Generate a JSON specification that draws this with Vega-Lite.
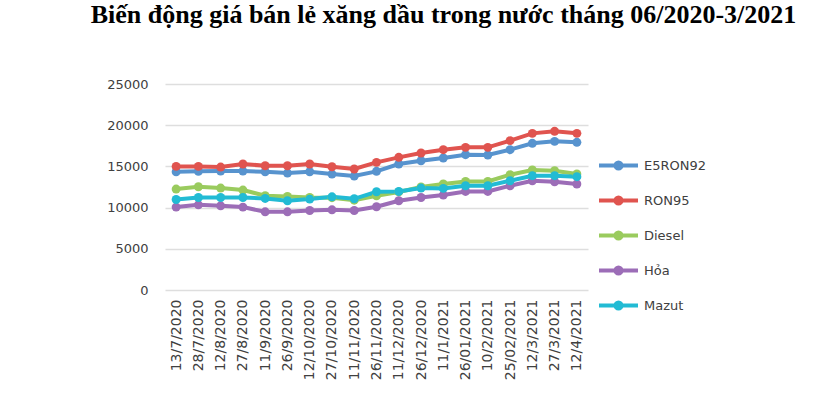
{
  "$schema": "https://vega.github.io/schema/vega-lite/v6.json",
  "autosize": "none",
  "width": 423,
  "height": 206,
  "padding": {"left": 165, "top": 84, "right": 227, "bottom": 109},
  "background": "white",
  "title": {
    "text": "Biến động giá bán lẻ xăng dầu trong nước tháng 06/2020-3/2021",
    "font": "Liberation Serif",
    "fontSize": 26,
    "fontWeight": "bold",
    "color": "#000000",
    "anchor": "middle",
    "dx": 67,
    "baseline": "alphabetic",
    "offset": 29
  },
  "config": {
    "view": {"stroke": null},
    "font": "DejaVu Sans"
  },
  "datasets": {
    "prices": [
      {"date": "13/7/2020", "fuel": "E5RON92", "price": 14350},
      {"date": "28/7/2020", "fuel": "E5RON92", "price": 14400},
      {"date": "12/8/2020", "fuel": "E5RON92", "price": 14430},
      {"date": "27/8/2020", "fuel": "E5RON92", "price": 14430},
      {"date": "11/9/2020", "fuel": "E5RON92", "price": 14350},
      {"date": "26/9/2020", "fuel": "E5RON92", "price": 14190},
      {"date": "12/10/2020", "fuel": "E5RON92", "price": 14350},
      {"date": "27/10/2020", "fuel": "E5RON92", "price": 14070},
      {"date": "11/11/2020", "fuel": "E5RON92", "price": 13830},
      {"date": "26/11/2020", "fuel": "E5RON92", "price": 14400},
      {"date": "11/12/2020", "fuel": "E5RON92", "price": 15290},
      {"date": "26/12/2020", "fuel": "E5RON92", "price": 15690},
      {"date": "11/1/2021", "fuel": "E5RON92", "price": 16020},
      {"date": "26/01/2021", "fuel": "E5RON92", "price": 16420},
      {"date": "10/2/2021", "fuel": "E5RON92", "price": 16380},
      {"date": "25/02/2021", "fuel": "E5RON92", "price": 17030},
      {"date": "12/3/2021", "fuel": "E5RON92", "price": 17800},
      {"date": "27/3/2021", "fuel": "E5RON92", "price": 18040},
      {"date": "12/4/2021", "fuel": "E5RON92", "price": 17920},
      {"date": "13/7/2020", "fuel": "RON95", "price": 15000},
      {"date": "28/7/2020", "fuel": "RON95", "price": 15000},
      {"date": "12/8/2020", "fuel": "RON95", "price": 14920},
      {"date": "27/8/2020", "fuel": "RON95", "price": 15290},
      {"date": "11/9/2020", "fuel": "RON95", "price": 15080},
      {"date": "26/9/2020", "fuel": "RON95", "price": 15080},
      {"date": "12/10/2020", "fuel": "RON95", "price": 15290},
      {"date": "27/10/2020", "fuel": "RON95", "price": 14960},
      {"date": "11/11/2020", "fuel": "RON95", "price": 14680},
      {"date": "26/11/2020", "fuel": "RON95", "price": 15490},
      {"date": "11/12/2020", "fuel": "RON95", "price": 16100},
      {"date": "26/12/2020", "fuel": "RON95", "price": 16630},
      {"date": "11/1/2021", "fuel": "RON95", "price": 17030},
      {"date": "26/01/2021", "fuel": "RON95", "price": 17310},
      {"date": "10/2/2021", "fuel": "RON95", "price": 17310},
      {"date": "25/02/2021", "fuel": "RON95", "price": 18130},
      {"date": "12/3/2021", "fuel": "RON95", "price": 19010},
      {"date": "27/3/2021", "fuel": "RON95", "price": 19260},
      {"date": "12/4/2021", "fuel": "RON95", "price": 19010},
      {"date": "13/7/2020", "fuel": "Diesel", "price": 12250},
      {"date": "28/7/2020", "fuel": "Diesel", "price": 12530},
      {"date": "12/8/2020", "fuel": "Diesel", "price": 12370},
      {"date": "27/8/2020", "fuel": "Diesel", "price": 12130},
      {"date": "11/9/2020", "fuel": "Diesel", "price": 11440},
      {"date": "26/9/2020", "fuel": "Diesel", "price": 11350},
      {"date": "12/10/2020", "fuel": "Diesel", "price": 11230},
      {"date": "27/10/2020", "fuel": "Diesel", "price": 11200},
      {"date": "11/11/2020", "fuel": "Diesel", "price": 10900},
      {"date": "26/11/2020", "fuel": "Diesel", "price": 11440},
      {"date": "11/12/2020", "fuel": "Diesel", "price": 11900},
      {"date": "26/12/2020", "fuel": "Diesel", "price": 12500},
      {"date": "11/1/2021", "fuel": "Diesel", "price": 12860},
      {"date": "26/01/2021", "fuel": "Diesel", "price": 13180},
      {"date": "10/2/2021", "fuel": "Diesel", "price": 13180},
      {"date": "25/02/2021", "fuel": "Diesel", "price": 13990},
      {"date": "12/3/2021", "fuel": "Diesel", "price": 14560},
      {"date": "27/3/2021", "fuel": "Diesel", "price": 14480},
      {"date": "12/4/2021", "fuel": "Diesel", "price": 14080},
      {"date": "13/7/2020", "fuel": "Hỏa", "price": 10060},
      {"date": "28/7/2020", "fuel": "Hỏa", "price": 10340},
      {"date": "12/8/2020", "fuel": "Hỏa", "price": 10220},
      {"date": "27/8/2020", "fuel": "Hỏa", "price": 10060},
      {"date": "11/9/2020", "fuel": "Hỏa", "price": 9490},
      {"date": "26/9/2020", "fuel": "Hỏa", "price": 9490},
      {"date": "12/10/2020", "fuel": "Hỏa", "price": 9650},
      {"date": "27/10/2020", "fuel": "Hỏa", "price": 9730},
      {"date": "11/11/2020", "fuel": "Hỏa", "price": 9650},
      {"date": "26/11/2020", "fuel": "Hỏa", "price": 10100},
      {"date": "11/12/2020", "fuel": "Hỏa", "price": 10830},
      {"date": "26/12/2020", "fuel": "Hỏa", "price": 11230},
      {"date": "11/1/2021", "fuel": "Hỏa", "price": 11520},
      {"date": "26/01/2021", "fuel": "Hỏa", "price": 11960},
      {"date": "10/2/2021", "fuel": "Hỏa", "price": 11960},
      {"date": "25/02/2021", "fuel": "Hỏa", "price": 12650},
      {"date": "12/3/2021", "fuel": "Hỏa", "price": 13260},
      {"date": "27/3/2021", "fuel": "Hỏa", "price": 13140},
      {"date": "12/4/2021", "fuel": "Hỏa", "price": 12860},
      {"date": "13/7/2020", "fuel": "Mazut", "price": 10980},
      {"date": "28/7/2020", "fuel": "Mazut", "price": 11230},
      {"date": "12/8/2020", "fuel": "Mazut", "price": 11230},
      {"date": "27/8/2020", "fuel": "Mazut", "price": 11230},
      {"date": "11/9/2020", "fuel": "Mazut", "price": 11110},
      {"date": "26/9/2020", "fuel": "Mazut", "price": 10830},
      {"date": "12/10/2020", "fuel": "Mazut", "price": 11030},
      {"date": "27/10/2020", "fuel": "Mazut", "price": 11310},
      {"date": "11/11/2020", "fuel": "Mazut", "price": 11070},
      {"date": "26/11/2020", "fuel": "Mazut", "price": 11920},
      {"date": "11/12/2020", "fuel": "Mazut", "price": 11960},
      {"date": "26/12/2020", "fuel": "Mazut", "price": 12370},
      {"date": "11/1/2021", "fuel": "Mazut", "price": 12330},
      {"date": "26/01/2021", "fuel": "Mazut", "price": 12650},
      {"date": "10/2/2021", "fuel": "Mazut", "price": 12650},
      {"date": "25/02/2021", "fuel": "Mazut", "price": 13260},
      {"date": "12/3/2021", "fuel": "Mazut", "price": 13870},
      {"date": "27/3/2021", "fuel": "Mazut", "price": 13870},
      {"date": "12/4/2021", "fuel": "Mazut", "price": 13750}
    ]
  },
  "data": {"name": "prices"},
  "mark": {
    "type": "line",
    "strokeWidth": 4,
    "point": {"filled": true, "size": 80, "opacity": 1}
  },
  "encoding": {
    "x": {
      "field": "date",
      "type": "ordinal",
      "sort": null,
      "scale": {"paddingInner": 1, "paddingOuter": 0.5},
      "axis": {
        "title": null,
        "labelAngle": -90,
        "labelFont": "DejaVu Sans",
        "labelFontSize": 14,
        "labelColor": "#404040",
        "labelPadding": 9,
        "ticks": false,
        "domain": false,
        "grid": false
      }
    },
    "y": {
      "field": "price",
      "type": "quantitative",
      "scale": {"domain": [0, 25000]},
      "axis": {
        "title": null,
        "values": [0, 5000, 10000, 15000, 20000, 25000],
        "format": "d",
        "labelFont": "DejaVu Sans",
        "labelFontSize": 13,
        "labelColor": "#404040",
        "labelPadding": 17,
        "ticks": false,
        "domain": false,
        "grid": true,
        "gridColor": "#dedede",
        "gridWidth": 1.5
      }
    },
    "color": {
      "field": "fuel",
      "type": "nominal",
      "scale": {
        "domain": ["E5RON92", "RON95", "Diesel", "Hỏa", "Mazut"],
        "range": ["#5793ce", "#e0544f", "#9acb5e", "#9c6db7", "#22bbd4"]
      },
      "legend": {
        "title": null,
        "orient": "none",
        "legendX": 432,
        "legendY": 60,
        "padding": 0,
        "symbolType": "M-1,0H1M0.16,0A0.16,0.16,0,1,1,-0.16,0A0.16,0.16,0,1,1,0.16,0Z",
        "symbolSize": 1521,
        "symbolStrokeWidth": 4,
        "labelFont": "DejaVu Sans",
        "labelFontSize": 13,
        "labelColor": "#404040",
        "labelOffset": 4,
        "rowPadding": 2,
        "encode": {
          "symbols": {"update": {"fill": {"scale": "color", "field": "value"}, "opacity": {"value": 1}}}
        }
      }
    }
  }
}
